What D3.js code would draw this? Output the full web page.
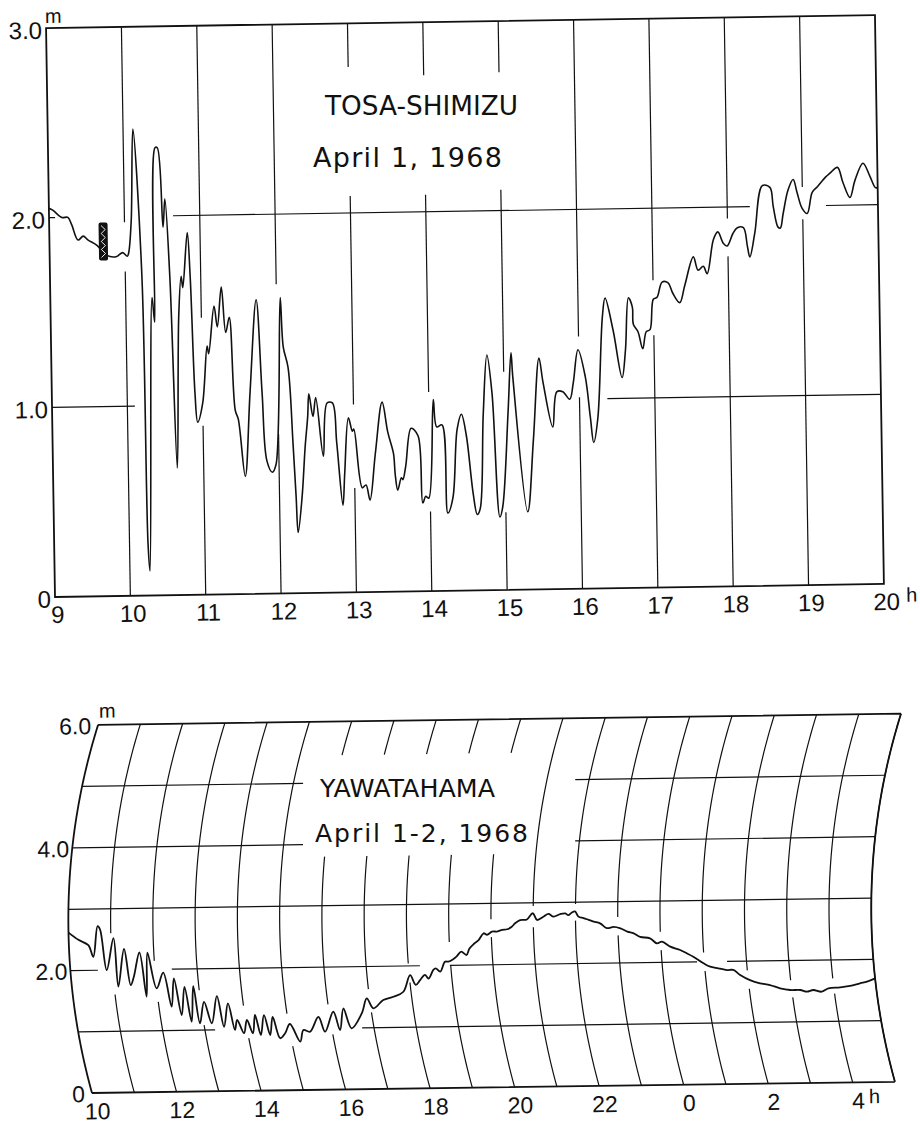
<!DOCTYPE html>
<html>
<head>
<meta charset="utf-8">
<title>Tide records, April 1968</title>
<script src="https://cdn.jsdelivr.net/npm/d3@7"></script>
<style>
  body { margin: 0; background: #fff; }
  svg text { font-family: "Liberation Sans", Arial, sans-serif; fill: #111; }
  svg text.title { font-family: "DejaVu Sans", "Liberation Sans", sans-serif; }
  .frame { fill: none; stroke: #111; stroke-width: 1.8; }
  .grid { fill: none; stroke: #111; stroke-width: 1.2; }
  .trace { fill: none; stroke: #111; stroke-width: 1.6; stroke-linejoin: round; }
  .axis path, .axis line { display: none; }
</style>
</head>
<body>
<svg id="chart" width="920" height="1123"></svg>
<script>

// ---- Tosa-Shimizu, April 1, 1968 (hours, metres) ----
var tosaHours = [9, 10, 11, 12, 13, 14, 15, 16, 17, 18, 19, 20];
var tosaLevels = [0, 1, 2, 3];
var tosaLevelLabels = ["0", "1.0", "2.0", "3.0"];

var tosaTrace = [
  [9.00,2.05],[9.05,2.04],[9.17,2.00],[9.25,2.00],[9.30,1.96],[9.38,1.88],[9.45,1.90],[9.51,1.88],
  [9.63,1.85],[9.72,1.81],[9.80,1.79],[9.89,1.79],[9.97,1.81],[10.03,1.79],[10.05,1.81],[10.09,1.98],
  [10.13,2.46],[10.22,1.68],[10.245,0.28],[10.266,0.13],[10.35,1.57],[10.38,1.44],[10.42,2.36],[10.45,2.36],
  [10.51,1.94],[10.54,2.09],[10.59,1.68],[10.65,0.67],[10.70,1.47],[10.74,1.68],[10.76,1.62],[10.83,1.91],
  [10.86,1.68],[10.90,1.06],[10.93,0.91],[11.00,1.01],[11.07,1.31],[11.09,1.27],[11.17,1.52],[11.21,1.41],
  [11.27,1.62],[11.32,1.38],[11.37,1.46],[11.43,0.97],[11.47,0.92],[11.55,0.62],[11.63,1.06],[11.73,1.55],
  [11.79,1.06],[11.84,0.70],[11.91,0.64],[11.96,0.68],[12.05,1.56],[12.08,1.30],[12.14,1.19],[12.19,0.79],
  [12.22,0.51],[12.24,0.32],[12.30,0.51],[12.35,0.77],[12.39,0.93],[12.41,1.05],[12.46,0.93],[12.50,1.03],
  [12.59,0.72],[12.65,1.00],[12.72,1.00],[12.77,0.79],[12.84,0.46],[12.87,0.63],[12.93,0.92],[12.98,0.85],
  [13.00,0.86],[13.10,0.55],[13.15,0.565],[13.20,0.485],[13.28,0.73],[13.38,1.00],[13.45,0.84],[13.52,0.73],
  [13.54,0.615],[13.57,0.535],[13.62,0.60],[13.64,0.59],[13.68,0.66],[13.76,0.86],[13.85,0.82],[13.90,0.465],
  [13.94,0.50],[13.98,0.49],[14.06,1.01],[14.10,0.865],[14.17,0.875],[14.23,0.41],[14.30,0.49],[14.37,0.85],
  [14.43,0.93],[14.49,0.82],[14.57,0.51],[14.62,0.40],[14.66,0.43],[14.72,0.93],[14.78,1.24],[14.84,1.04],
  [14.92,0.385],[14.96,0.44],[15.05,0.94],[15.10,1.25],[15.12,1.12],[15.29,0.41],[15.38,0.79],[15.47,1.22],
  [15.52,1.09],[15.64,0.855],[15.70,1.04],[15.78,1.04],[15.87,1.00],[15.92,1.085],[15.99,1.26],[16.08,1.12],
  [16.14,0.905],[16.18,0.77],[16.24,0.90],[16.32,1.43],[16.36,1.53],[16.46,1.36],[16.57,1.11],[16.62,1.255],
  [16.67,1.53],[16.72,1.48],[16.73,1.39],[16.79,1.35],[16.85,1.26],[16.90,1.35],[16.95,1.36],[17.00,1.52],
  [17.05,1.53],[17.12,1.61],[17.20,1.605],[17.26,1.55],[17.35,1.50],[17.42,1.59],[17.54,1.74],[17.60,1.67],
  [17.67,1.69],[17.72,1.65],[17.81,1.83],[17.87,1.87],[17.94,1.81],[17.99,1.795],[18.07,1.86],[18.13,1.89],
  [18.21,1.89],[18.26,1.79],[18.29,1.735],[18.36,1.86],[18.47,2.11],[18.57,2.10],[18.61,2.00],[18.67,1.89],
  [18.70,1.885],[18.74,1.96],[18.81,2.085],[18.88,2.14],[18.93,2.07],[18.99,1.99],[19.06,1.96],[19.13,2.07],
  [19.20,2.10],[19.31,2.15],[19.37,2.17],[19.47,2.20],[19.54,2.12],[19.63,2.04],[19.70,2.13],[19.81,2.22],
  [19.90,2.15],[19.97,2.09],[20.00,2.09]
];

// marker box drawn on the record (time span, level span)
var tosaMarkT = [9.655, 9.775];
var tosaMarkH = [1.77, 1.97];

// where the hour lines are left open on the sheet
var tosaGaps = {
  10: [[1.71, 1.97]], 11: [[0.89, 1.46]], 12: [[0.84, 1.63]],
  13: [[0.55, 0.99], [2.09, 2.77]], 14: [[0.42, 1.05], [2.09, 2.72]],
  15: [[0.41, 1.15], [2.11, 2.73]], 16: [[1.01, 1.33]], 17: [[1.33, 1.62]],
  18: [[1.74, 1.94]], 19: [[1.93, 2.10]]
};
var tosaRules = [
  { h: 1, spans: [[9, 10.10], [16.37, 20]] },
  { h: 2, spans: [[9, 9.08], [10.645, 18.30], [19.31, 20]] }
];

// ---- Yawatahama, April 1-2, 1968 (hours from 0h April 1, metres) ----
var yawaHours = d3.range(10, 30);
var yawaTicks = [10, 12, 14, 16, 18, 20, 22, 24, 26, 28];
var yawaTickLabels = ["10", "12", "14", "16", "18", "20", "22", "0", "2", "4"];
var yawaLevels = [0, 2, 4, 6];
var yawaLevelLabels = ["0", "2.0", "4.0", "6.0"];

var yawaTrace = [
  [10.00,2.62],[10.23,2.50],[10.46,2.41],[10.565,2.22],[10.69,2.72],[10.75,2.66],[10.86,2.00],[11.06,2.52],
  [11.10,1.73],[11.30,2.34],[11.395,1.75],[11.49,1.89],[11.66,2.28],[11.74,1.56],[11.85,2.275],[12.00,1.69],
  [12.19,1.945],[12.30,1.39],[12.43,1.85],[12.51,1.25],[12.66,1.71],[12.72,1.14],[12.87,1.72],[12.91,1.11],
  [13.08,1.46],[13.19,1.11],[13.40,1.55],[13.465,1.05],[13.64,1.43],[13.71,0.995],[13.80,1.157],[13.91,0.94],
  [14.03,1.155],[14.12,0.937],[14.24,1.235],[14.30,0.907],[14.45,1.23],[14.52,0.905],[14.65,1.20],[14.74,0.85],
  [14.88,0.93],[15.03,1.08],[15.20,0.79],[15.325,0.98],[15.475,0.95],[15.73,1.19],[15.83,0.946],[16.10,1.27],
  [16.19,0.97],[16.35,1.32],[16.47,0.996],[16.77,1.24],[16.935,1.48],[17.06,1.317],[17.32,1.45],[17.57,1.50],
  [17.82,1.58],[18.02,1.85],[18.13,1.69],[18.25,1.77],[18.37,1.85],[18.45,1.79],[18.58,1.93],[18.64,1.955],
  [18.74,1.90],[18.87,2.06],[18.95,2.06],[19.07,2.10],[19.15,2.14],[19.27,2.22],[19.39,2.165],[19.47,2.27],
  [19.59,2.35],[19.70,2.41],[19.82,2.515],[19.90,2.49],[20.02,2.54],[20.14,2.54],[20.26,2.565],[20.38,2.575],
  [20.49,2.615],[20.57,2.67],[20.69,2.72],[20.85,2.73],[20.99,2.83],[21.09,2.72],[21.24,2.77],[21.36,2.815],
  [21.48,2.77],[21.64,2.81],[21.76,2.82],[21.83,2.79],[21.91,2.83],[21.99,2.85],[22.07,2.765],[22.19,2.74],
  [22.31,2.71],[22.43,2.68],[22.58,2.65],[22.74,2.57],[22.90,2.59],[23.06,2.565],[23.22,2.51],[23.37,2.48],
  [23.52,2.42],[23.75,2.395],[23.91,2.31],[24.03,2.337],[24.22,2.254],[24.45,2.197],[24.60,2.142],[24.75,2.085],
  [24.98,1.975],[25.13,1.918],[25.32,1.89],[25.52,1.86],[25.67,1.86],[25.82,1.776],[26.04,1.69],[26.27,1.636],
  [26.50,1.606],[26.73,1.55],[26.96,1.52],[27.20,1.518],[27.35,1.489],[27.51,1.515],[27.70,1.485],[27.87,1.539],
  [28.15,1.553],[28.39,1.572],[28.63,1.613],[28.80,1.638],[29.00,1.69]
];

var yawaGaps = {
  11: [[1.6, 2.6]], 12: [[1.47, 2.14]], 13: [[1.08, 1.65]], 14: [[0.86, 1.39]], 15: [[0.72, 1.25]],
  16: [[0.9, 1.39], [3.8, 5.45]], 17: [[1.25, 1.63], [3.8, 5.45]], 18: [[1.73, 2.04], [3.8, 5.45]],
  19: [[2.0, 2.38], [3.8, 5.45]], 20: [[2.45, 2.74], [3.8, 5.45]], 21: [[2.6, 2.95]], 22: [[2.7, 2.97]],
  23: [[2.45, 2.75]], 24: [[2.2, 2.5]], 25: [[1.85, 2.15]], 26: [[1.55, 1.85]], 27: [[1.4, 1.68]], 28: [[1.45, 1.7]]
};
var yawaRules = [
  { h: 1, spans: [[10, 13.24], [16.72, 29]] },
  { h: 2, spans: [[10, 10.65], [12.40, 18.27], [18.98, 24.83], [25.54, 29]] },
  { h: 3, spans: [[10, 29]] },
  { h: 4, spans: [[10, 15.46], [21.90, 29]] },
  { h: 5, spans: [[10, 15.23], [21.67, 29]] }
];

var svg = d3.select("#chart");

function keepSpans(lo, hi, gaps) {
  var out = [], a = lo;
  (gaps || []).forEach(function(g) { out.push([a, g[0]]); a = g[1]; });
  out.push([a, hi]);
  return out;
}

// =========================== upper chart ===========================

var gTop = svg.append("g").attr("transform", "translate(55,597) rotate(-0.9)");
var xT = d3.scaleLinear().domain([9, 20]).range([0, 829]);
var yT = d3.scaleLinear().domain([0, 3]).range([0, -569]);

tosaHours.slice(1, -1).forEach(function(hr) {
  keepSpans(0, 3, tosaGaps[hr]).forEach(function(s) {
    gTop.append("line").attr("class", "grid")
      .attr("x1", xT(hr)).attr("x2", xT(hr))
      .attr("y1", yT(s[0])).attr("y2", yT(s[1]));
  });
});

tosaRules.forEach(function(r) {
  r.spans.forEach(function(s) {
    gTop.append("line").attr("class", "grid")
      .attr("x1", xT(s[0])).attr("x2", xT(s[1]))
      .attr("y1", yT(r.h)).attr("y2", yT(r.h));
  });
});

gTop.append("rect").attr("class", "frame")
  .attr("x", xT(9)).attr("y", yT(3))
  .attr("width", xT(20) - xT(9)).attr("height", yT(0) - yT(3));

gTop.append("path").attr("class", "trace")
  .attr("d", d3.line()
    .x(function(d) { return xT(d[0]); })
    .y(function(d) { return yT(d[1]); })
    .curve(d3.curveCatmullRom.alpha(0.5))(tosaTrace));

// the little hatched marker
var mx0 = xT(tosaMarkT[0]), mx1 = xT(tosaMarkT[1]);
var my0 = yT(tosaMarkH[1]), my1 = yT(tosaMarkH[0]);
gTop.append("rect")
  .attr("x", mx0).attr("y", my0)
  .attr("width", mx1 - mx0).attr("height", my1 - my0)
  .attr("rx", 2).attr("fill", "#111");
gTop.append("path")
  .attr("d", d3.line()(d3.range(0, 9).map(function(i) {
    return [mx0 + 2.5 + (i % 2) * (mx1 - mx0 - 5), my0 + 3 + i * (my1 - my0 - 6) / 8];
  })))
  .attr("fill", "none").attr("stroke", "#fff").attr("stroke-width", 0.9);

gTop.append("g").attr("class", "axis")
  .attr("transform", "translate(2,0)")
  .call(d3.axisBottom(xT).tickValues(tosaHours).tickSize(0).tickPadding(9)
    .tickFormat(function(d) { return d; }))
  .selectAll("text").style("font-size", "24px").style("font-family", null);

gTop.append("g").attr("class", "axis")
  .attr("transform", "translate(-3,0)")
  .call(d3.axisLeft(yT).tickValues(tosaLevels).tickSize(0).tickPadding(1)
    .tickFormat(function(d, i) { return tosaLevelLabels[i]; }))
  .selectAll("text").style("font-size", "24px").style("font-family", null)
  .attr("dy", "0.42em");

gTop.append("text").attr("x", xT(9) - 1).attr("y", yT(3) - 5)
  .style("font-size", "20px").text("m");
gTop.append("text").attr("x", xT(20) + 22).attr("y", 18)
  .style("font-size", "20px").text("h");

svg.append("text").attr("class", "title").attr("x", 325).attr("y", 115)
  .attr("textLength", 193).attr("lengthAdjust", "spacingAndGlyphs")
  .style("font-size", "27px").text("TOSA-SHIMIZU");
svg.append("text").attr("class", "title").attr("x", 313).attr("y", 167)
  .attr("textLength", 189).attr("lengthAdjust", "spacing")
  .style("font-size", "27px").text("April 1, 1968");

// =========================== lower chart ===========================
// pen-arc recorder: every hour line is an arc, the level lines are straight

var gBot = svg.append("g").attr("transform", "translate(92,1093) rotate(-0.8)");
var xB = d3.scaleLinear().domain([10, 29]).range([0, 803]);
var yB = d3.scaleLinear().domain([0, 6]).range([0, -368]);
var armR = 650, armH = 2.69;

function bend(h) {
  var d0 = yB(0) - yB(armH), d = yB(h) - yB(armH);
  return Math.sqrt(armR * armR - d0 * d0) - Math.sqrt(armR * armR - d * d);
}
var arcLine = d3.line()
  .x(function(d) { return xB(d[0]) + bend(d[1]); })
  .y(function(d) { return yB(d[1]); });

function hourArc(t, h0, h1) {
  var n = Math.max(2, Math.ceil((h1 - h0) / 0.1));
  return arcLine(d3.range(n + 1).map(function(i) { return [t, h0 + (h1 - h0) * i / n]; }));
}

yawaHours.slice(1).forEach(function(hr) {
  keepSpans(0, 6, yawaGaps[hr]).forEach(function(s) {
    gBot.append("path").attr("class", "grid").attr("d", hourArc(hr, s[0], s[1]));
  });
});

yawaRules.forEach(function(r) {
  r.spans.forEach(function(s) {
    gBot.append("line").attr("class", "grid")
      .attr("x1", xB(s[0]) + bend(r.h)).attr("x2", xB(s[1]) + bend(r.h))
      .attr("y1", yB(r.h)).attr("y2", yB(r.h));
  });
});

// frame: straight top and bottom, arcs left and right
gBot.append("path").attr("class", "frame")
  .attr("d", hourArc(10, 0, 6) + hourArc(29, 0, 6) +
    "M" + xB(10) + "," + yB(0) + "L" + xB(29) + "," + yB(0) +
    "M" + (xB(10) + bend(6)) + "," + yB(6) + "L" + (xB(29) + bend(6)) + "," + yB(6));

gBot.append("path").attr("class", "trace").style("stroke-width", 1.8)
  .attr("d", arcLine.curve(d3.curveCatmullRom.alpha(0.5))(yawaTrace));
arcLine.curve(d3.curveLinear);

gBot.append("g").attr("class", "axis")
  .attr("transform", "translate(5,0)")
  .call(d3.axisBottom(xB).tickValues(yawaTicks).tickSize(0).tickPadding(10)
    .tickFormat(function(d, i) { return yawaTickLabels[i]; }))
  .selectAll("text").style("font-size", "23px").style("font-family", null);

gBot.selectAll("text.lvl")
  .data(yawaLevels)
  .enter().append("text")
  .attr("class", "lvl")
  .attr("x", function(d) { return bend(d) - (d === 0 || d === 6 ? 7 : 3); })
  .attr("y", function(d) { return yB(d) + 9; })
  .attr("text-anchor", "end")
  .style("font-size", "23px")
  .text(function(d, i) { return yawaLevelLabels[i]; });

gBot.append("text").attr("x", bend(6) + 1).attr("y", yB(6) - 7)
  .style("font-size", "20px").text("m");
gBot.append("text").attr("x", xB(28) + 16).attr("y", 21)
  .style("font-size", "20px").text("h");

svg.append("text").attr("class", "title").attr("x", 320).attr("y", 797)
  .attr("textLength", 175).attr("lengthAdjust", "spacingAndGlyphs")
  .style("font-size", "25px").text("YAWATAHAMA");
svg.append("text").attr("class", "title").attr("x", 315).attr("y", 842)
  .attr("textLength", 213).attr("lengthAdjust", "spacing")
  .style("font-size", "25px").text("April 1-2, 1968");

</script>
</body>
</html>
